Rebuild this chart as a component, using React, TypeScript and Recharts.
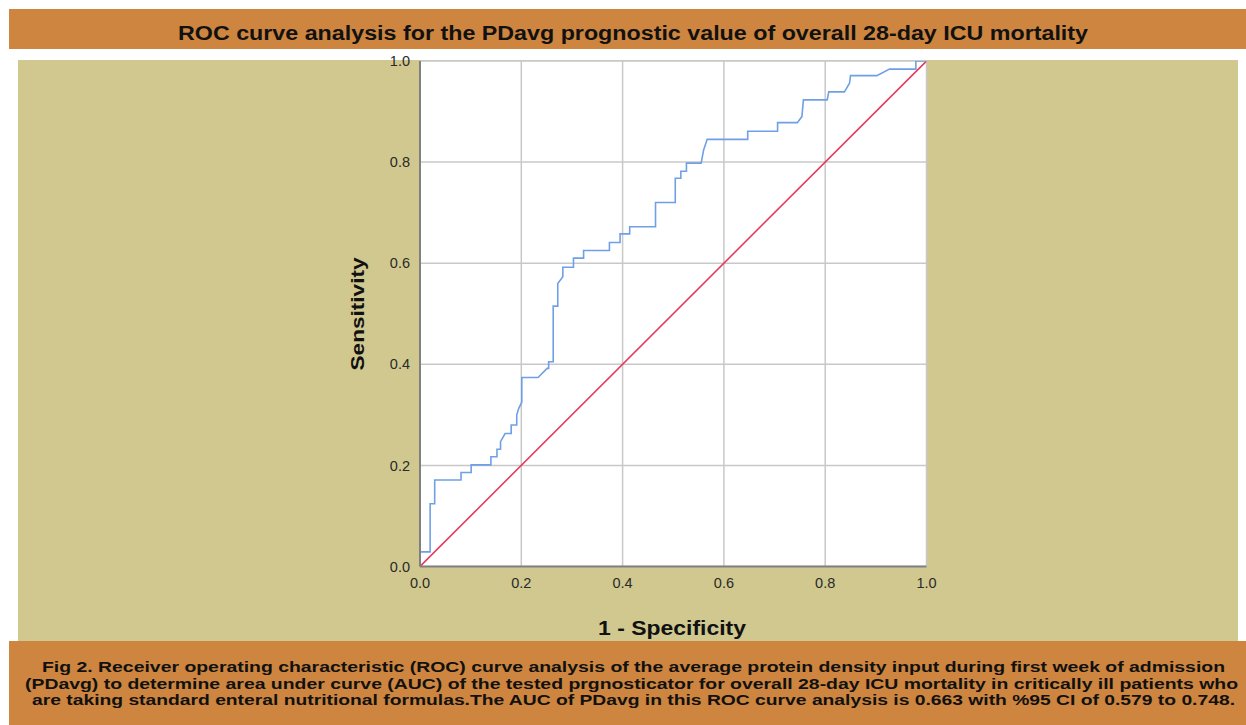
import React from 'react';
import { LineChart, Line, XAxis, YAxis, CartesianGrid } from 'recharts';

const fpr = [0, 0, 0.020, 0.020, 0.029, 0.029, 0.081, 0.081, 0.101, 0.101, 0.140, 0.140, 0.152, 0.152, 0.159, 0.159, 0.168, 0.180, 0.180, 0.191, 0.191, 0.195, 0.201, 0.201, 0.233, 0.251, 0.254, 0.254, 0.263, 0.263, 0.272, 0.272, 0.282, 0.282, 0.303, 0.303, 0.323, 0.323, 0.374, 0.374, 0.395, 0.395, 0.414, 0.414, 0.465, 0.465, 0.504, 0.504, 0.515, 0.515, 0.526, 0.526, 0.555, 0.560, 0.567, 0.647, 0.647, 0.706, 0.706, 0.745, 0.754, 0.757, 0.804, 0.807, 0.838, 0.848, 0.850, 0.902, 0.927, 0.979, 0.979, 1.0];
const tpr = [0, 0.029, 0.029, 0.124, 0.124, 0.171, 0.171, 0.186, 0.186, 0.201, 0.201, 0.217, 0.217, 0.232, 0.232, 0.247, 0.263, 0.263, 0.280, 0.280, 0.300, 0.313, 0.325, 0.374, 0.374, 0.392, 0.392, 0.405, 0.405, 0.515, 0.515, 0.560, 0.573, 0.592, 0.592, 0.610, 0.610, 0.625, 0.625, 0.641, 0.641, 0.658, 0.658, 0.672, 0.672, 0.720, 0.720, 0.768, 0.768, 0.782, 0.782, 0.798, 0.798, 0.824, 0.845, 0.845, 0.861, 0.861, 0.878, 0.878, 0.890, 0.923, 0.923, 0.939, 0.939, 0.956, 0.971, 0.971, 0.984, 0.984, 1.0, 1.0];
const refX = [0, 1];
const refY = [0, 1];
const ticks = [0, 0.2, 0.4, 0.6, 0.8, 1.0];

const titleText = 'ROC curve analysis for the PDavg prognostic value of overall 28-day ICU mortality';
const captionLines = [
  'Fig 2. Receiver operating characteristic (ROC) curve analysis of the average protein density input during first week of admission',
  '(PDavg) to determine area under curve (AUC) of the tested prgnosticator for overall 28-day ICU mortality in critically ill patients who',
  'are taking standard enteral nutritional formulas.The AUC of PDavg in this ROC curve analysis is 0.663 with %95 CI of 0.579 to 0.748.',
];
const xLabel = '1 - Specificity';
const yLabel = 'Sensitivity';

const rocData = fpr.map((x, i) => ({ x, y: tpr[i] }));
const refData = refX.map((x, i) => ({ x, y: refY[i] }));

const ORANGE = '#CD853F';
const KHAKI = '#D0C88E';
const FONT = '"Liberation Sans", Arial, sans-serif';

export default function App() {
  const capCenters = [633.5, 631.5, 633.5];
  const capLens = [1183, 1213, 1203];
  const capBase = [672, 688.5, 705];
  return (
    <div style={{ position: 'absolute', left: 0, top: 0, width: 1246, height: 725, background: '#fff', overflow: 'hidden', fontFamily: FONT }}>
      <div style={{ position: 'absolute', left: 9, top: 9, width: 1237, height: 40, background: ORANGE }} />
      <div style={{ position: 'absolute', left: 18, top: 60, width: 1220, height: 581, background: KHAKI }} />
      <div style={{ position: 'absolute', left: 9, top: 641, width: 1237, height: 84, background: ORANGE }} />
      <div style={{ position: 'absolute', left: 0, top: 0 }}>
        <LineChart width={1246} height={725} data={rocData} margin={{ top: 61, right: 319.5, bottom: 128.5, left: 360 }}>
          <CartesianGrid fill="#ffffff" stroke="#c8c8c8" strokeWidth={1.5} />
          <XAxis
            type="number"
            dataKey="x"
            domain={[0, 1]}
            ticks={ticks}
            tickFormatter={(v: number) => v.toFixed(1)}
            tickLine={false}
            axisLine={{ stroke: '#808080', strokeWidth: 2 }}
            tick={{ fill: '#2a2a2a', fontSize: 14.5, fontFamily: FONT }}
            tickMargin={5}
            height={30}
            allowDataOverflow
          />
          <YAxis
            type="number"
            dataKey="y"
            domain={[0, 1]}
            ticks={ticks}
            tickFormatter={(v: number) => v.toFixed(1)}
            tickLine={false}
            axisLine={{ stroke: '#808080', strokeWidth: 2 }}
            tick={{ fill: '#2a2a2a', fontSize: 14.5, fontFamily: FONT }}
            tickMargin={4}
            width={60}
            allowDataOverflow
          />
          <Line data={refData} dataKey="y" type="linear" stroke="#E43C5F" strokeWidth={1.6} dot={false} isAnimationActive={false} />
          <Line data={rocData} dataKey="y" type="linear" stroke="#6FA0E6" strokeWidth={1.6} dot={false} isAnimationActive={false} />
        </LineChart>
      </div>
      <svg width={1246} height={725} style={{ position: 'absolute', left: 0, top: 0, pointerEvents: 'none' }}>
        <text x={633} y={40} textAnchor="middle" fontFamily={FONT} fontWeight="bold" fontSize={20} fill="#111" textLength={910} lengthAdjust="spacingAndGlyphs">{titleText}</text>
        <text x={364} y={314} transform="rotate(-90, 364, 314)" textAnchor="middle" fontFamily={FONT} fontWeight="bold" fontSize={19} fill="#111" textLength={113} lengthAdjust="spacingAndGlyphs">{yLabel}</text>
        <text x={672} y={635} textAnchor="middle" fontFamily={FONT} fontWeight="bold" fontSize={20} fill="#111" textLength={148} lengthAdjust="spacingAndGlyphs">{xLabel}</text>
        {captionLines.map((line, i) => (
          <text key={i} x={capCenters[i]} y={capBase[i]} textAnchor="middle" fontFamily={FONT} fontWeight="bold" fontSize={14.5} fill="#111" textLength={capLens[i]} lengthAdjust="spacingAndGlyphs">{line}</text>
        ))}
      </svg>
    </div>
  );
}
